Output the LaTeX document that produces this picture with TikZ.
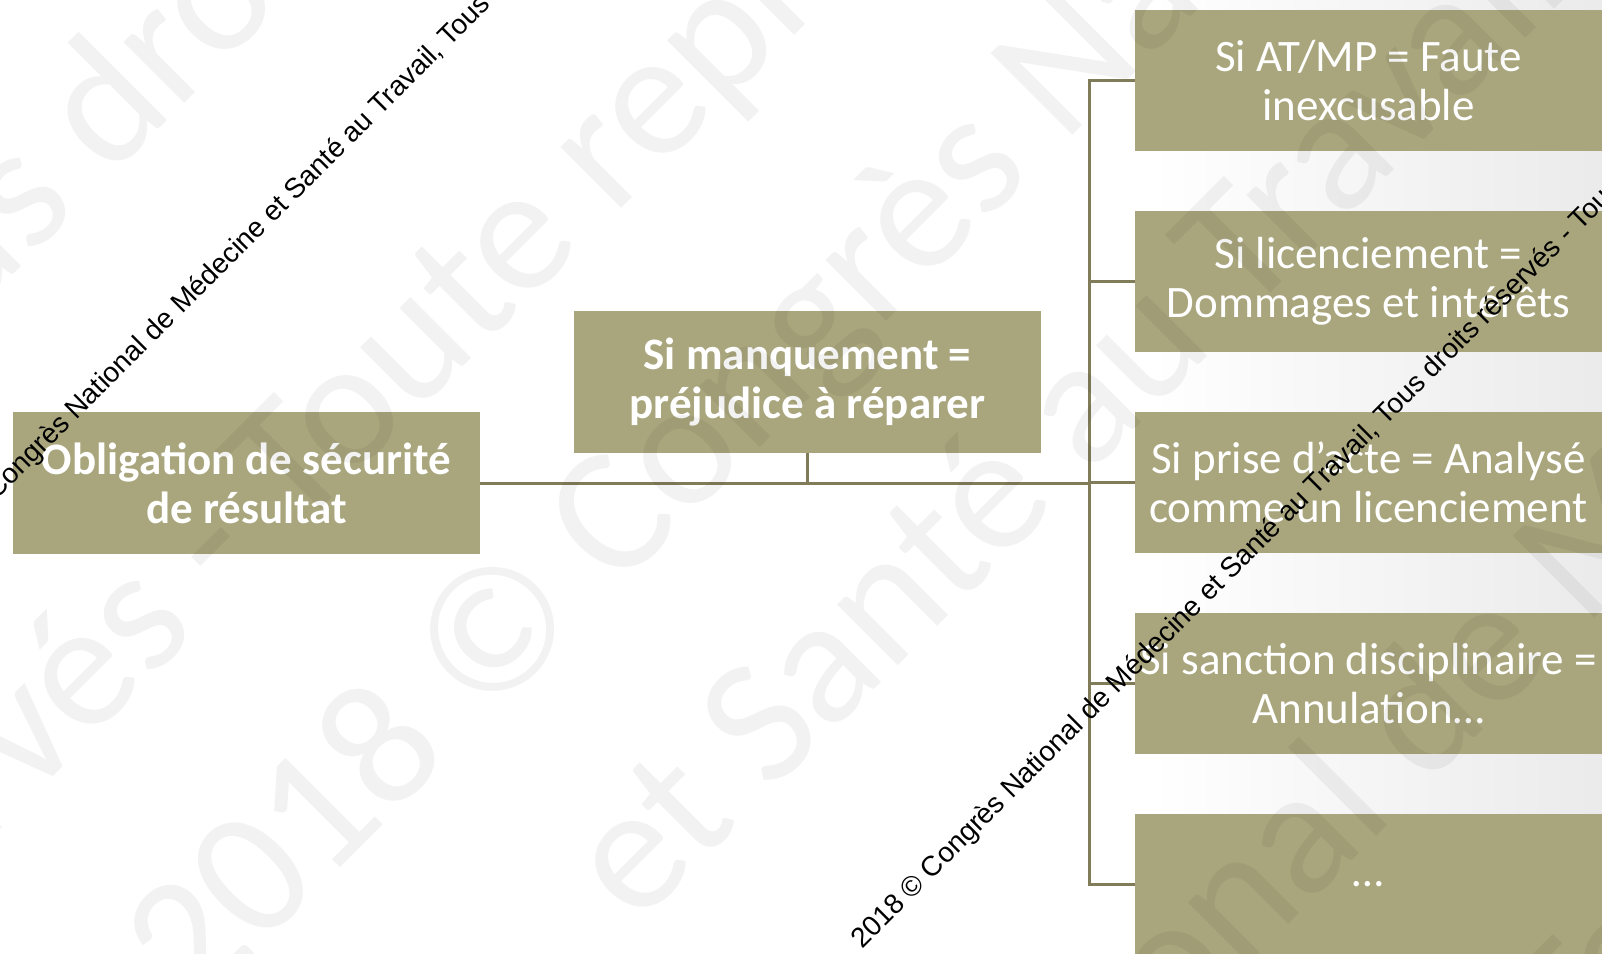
\documentclass[tikz,border=0pt]{standalone}
\usepackage{fontspec}
\setmainfont{Carlito}
\newfontfamily\wmfont{Liberation Sans}
\definecolor{boxfill}{HTML}{A9A67D}
\definecolor{linecol}{HTML}{807C5A}
\begin{document}
\begin{tikzpicture}[x=1pt,y=-1pt,
  box/.style={fill=boxfill, draw=none, minimum width=467pt, minimum height=141.5pt,
    inner sep=0pt, text=white, align=center, font=\fontsize{45}{49}\selectfont},
  boldbox/.style={box, font=\fontsize{45}{49}\selectfont\bfseries},
  conn/.style={draw=linecol, line width=3pt},
  wm/.style={font=\wmfont\fontsize{28}{30}\selectfont, rotate=45, anchor=base west,
    inner sep=0pt, text=black},
  bigwm/.style={font=\fontsize{180}{180}\selectfont, rotate=45, anchor=base west,
    inner sep=0pt, text=black, text opacity=0.05}]
\clip (0,0) rectangle (1602,953);
\fill[white] (0,0) rectangle (1602,953);
\shade[left color=white, right color=black!8] (1150,0) rectangle (1602,953);

% boxes
\node[boldbox] (obl)  at (246.5,483) {Obligation de sécurité\\de résultat};
\node[boldbox] (manq) at (807.5,382) {Si manquement =\\préjudice à réparer};
\node[box] (r1) at (1368.5,80.5)  {Si AT/MP = Faute\\inexcusable};
\node[box] (r2) at (1368.5,281.5) {Si licenciement =\\Dommages et intérêts};
\node[box] (r3) at (1368.5,482.5) {Si prise d’acte = Analysé\\comme un licenciement};
\node[box] (r4) at (1368.5,683.5) {Si sanction disciplinaire =\\Annulation…};
\node[box] (r5) at (1368.5,884.5) {…};

% connectors
\coordinate (jn) at (1089,483);
\draw[conn] (obl.east) -- (jn);
\draw[conn] (manq.south) -- (manq.south |- jn);
\draw[conn] (r1.west) -- (r1.west -| jn) -- (r5.west -| jn) -- (r5.west);
\draw[conn] (r2.west) -- (r2.west -| jn);
\draw[conn] (r3.west) -- (r3.west -| jn);
\draw[conn] (r4.west) -- (r4.west -| jn);

% faint large watermark
\node[bigwm] (wa) at (-154,442) {Tous droits réservés};
\node[bigwm] (wb) at (-235.5,1065.5) {réservés - Toute reproduction};
\node[bigwm] (wc) at (195,1013) {2018 © Congrès National de Médecine};
\node[bigwm] (wd) at (636,928) {et Santé au Travail};
\node[bigwm] (we) at (960,1253) {National de Médecine};
\node[bigwm] (wf) at (575,2076) {et Santé au Travail, Tous};

% black watermark
\node[wm] (wm1) at (-4,501) {Congrès National de Médecine et Santé au Travail, Tous};
\node[wm] (wm2) at (862,950) {2018 © Congrès National de Médecine et Santé au Travail, Tous droits réservés - Tou};
\end{tikzpicture}
\end{document}
